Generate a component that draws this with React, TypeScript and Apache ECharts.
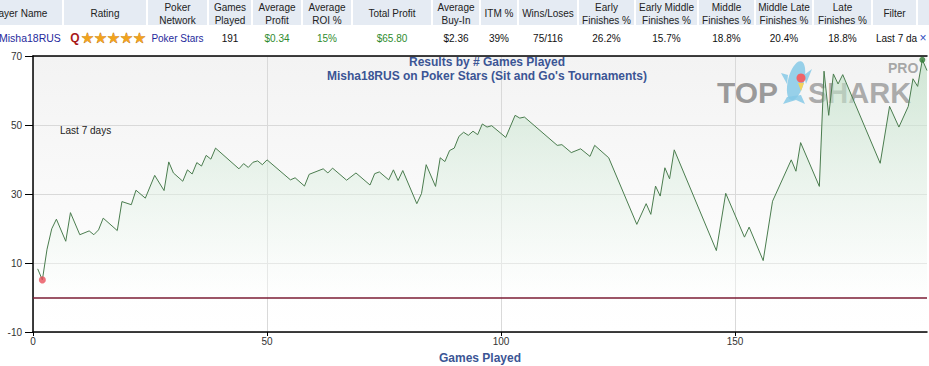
import React, { useEffect, useRef } from "react";
import * as echarts from "echarts";

// ---- data ----
const games = [1, 2, 3, 4, 5, 7, 8, 10, 12, 13, 14, 15, 18, 19, 21, 22, 24, 26, 28, 29, 30, 32, 33, 34, 35, 36, 37, 38, 39, 44, 45, 46, 47, 48, 49, 50, 55, 56, 58, 59, 62, 63, 64, 67, 69, 72, 73, 74, 76, 77, 78, 79, 82, 83, 84, 86, 87, 88, 89, 90, 91, 92, 93, 94, 95, 96, 97, 98, 101, 103, 104, 105, 112, 113, 115, 117, 119, 120, 123, 129, 131, 132, 133, 134, 135, 136, 137, 146, 148, 152, 153, 156, 158, 162, 163, 164, 168, 169, 170, 171, 172, 173, 181, 183, 185, 187, 188, 189, 190, 191];
const profit = [8.3, 5.1, 14, 19.9, 22.7, 16.3, 24.6, 18.2, 19.3, 18.2, 19.6, 23, 19.4, 27.8, 26.9, 31.1, 28.8, 35.4, 31, 39.3, 36.1, 33.7, 37, 35.8, 39.1, 38.1, 41.2, 40.1, 43.3, 37.3, 38.8, 37.7, 39.2, 39.6, 38.5, 39.9, 34.1, 34.7, 32.3, 35.7, 37.3, 36.1, 37.5, 34, 36.1, 32.6, 35.9, 36.4, 34.1, 37, 33.9, 36.8, 27.2, 30.1, 38.5, 32.2, 40.5, 39.4, 42.6, 43.3, 46.7, 47.9, 47, 48.2, 47.2, 50.3, 49.4, 49.8, 46.4, 52.8, 52, 52.3, 44.1, 44.3, 42, 43.1, 40.9, 44.1, 40.5, 21.2, 27.2, 24.1, 32.3, 29.4, 37.6, 34.4, 42.8, 13.6, 30.2, 17.5, 20.4, 10.7, 27.9, 39.9, 36.6, 44.9, 32.2, 65.6, 52.8, 64.8, 61.9, 64.6, 38.9, 55.4, 49.4, 55.4, 63.4, 61.2, 68.9, 65.8];

const xTicks = [0, 50, 100, 150];
const yMin = -10;
const yMax = 70;
const yStep = 20;
const xMax = 191;

const headerLabels = ["Player Name", "Rating", "Poker\nNetwork", "Games\nPlayed", "Average\nProfit", "Average\nROI %", "Total Profit", "Average\nBuy-In", "ITM %", "Wins/Loses", "Early\nFinishes %", "Early Middle\nFinishes %", "Middle\nFinishes %", "Middle Late\nFinishes %", "Late\nFinishes %", "Filter", ""];
const rowValues = ["Misha18RUS", "", "Poker Stars", "191", "$0.34", "15%", "$65.80", "$2.36", "39%", "75/116", "26.2%", "15.7%", "18.8%", "20.4%", "18.8%", "Last 7 days", "×"];
const ratingLetter = "Q";
const ratingStars = "★★★★★";
const titleLine1 = "Results by # Games Played";
const titleLine2 = "Misha18RUS on Poker Stars (Sit and Go's Tournaments)";
const periodNote = "Last 7 days";

// ---- layout (positions/styles only) ----
const colEdges = [-26, 63, 147, 208, 252, 302, 352, 432, 480, 518, 578, 635, 698, 755, 813, 872, 917, 945];
const NAVY = "#1F2A9C";
const GREEN = "#2E8B2E";
const rowColors = [NAVY, "#000", NAVY, "#111", GREEN, GREEN, GREEN, "#111", "#111", "#111", "#111", "#111", "#111", "#111", "#111", "#111", "#3050C0"];
const FONT = "'Liberation Sans', Arial, sans-serif";
const TITLE_BLUE = "#3B5595";

export default function App() {
  const ref = useRef<HTMLDivElement>(null);

  useEffect(() => {
    if (!ref.current) return;
    const chart = echarts.init(ref.current, undefined, { renderer: "svg" });

    const data = games.map((g, i) => [g, profit[i]]);
    let minI = 0;
    let maxI = 0;
    profit.forEach((v, i) => {
      if (v < profit[minI]) minI = i;
      if (v > profit[maxI]) maxI = i;
    });

    const graphics: any[] = [];
    // header cells
    headerLabels.forEach((label, i) => {
      const x0 = colEdges[i];
      const x1 = colEdges[i + 1];
      graphics.push({
        type: "rect",
        shape: { x: x0 + 1, y: 0, width: x1 - x0 - 2, height: 25 },
        style: { fill: "#E5EBF3" },
        silent: true,
      });
      if (label) {
        graphics.push({
          type: "text",
          style: {
            text: label,
            x: (x0 + x1) / 2,
            y: 13.5,
            align: "center",
            verticalAlign: "middle",
            font: `10px ${FONT}`,
            lineHeight: 13,
            fill: "#222",
          },
          silent: true,
        });
      }
    });
    // data row
    rowValues.forEach((val, i) => {
      if (!val) return;
      const x0 = colEdges[i];
      const x1 = colEdges[i + 1];
      let style: any = {
        text: val,
        x: (x0 + x1) / 2,
        y: 38,
        align: "center",
        verticalAlign: "middle",
        font: `10px ${FONT}`,
        fill: rowColors[i],
      };
      if (i === 0) style = { ...style, x: -1, align: "left", font: `10.5px ${FONT}` };
      if (i === 15) style = { ...style, x: 876, align: "left", width: 44, overflow: "truncate", ellipsis: "" };
      if (i === 16) style = { ...style, x: 923, font: `12px ${FONT}` };
      graphics.push({ type: "text", style, silent: true });
    });
    graphics.push({
      type: "text",
      style: { text: ratingLetter, x: 75, y: 38, align: "center", verticalAlign: "middle", font: `bold 12px ${FONT}`, fill: "#A81818" },
      silent: true,
    });
    graphics.push({
      type: "text",
      style: { text: ratingStars, x: 81, y: 38, align: "left", verticalAlign: "middle", font: "14.5px 'DejaVu Sans'", fill: "#F2A31B", stroke: "#B8700E", lineWidth: 0.6 },
      silent: true,
    });
    // period note
    graphics.push({
      type: "text",
      style: { text: periodNote, x: 60, y: 130, align: "left", verticalAlign: "middle", font: `10px ${FONT}`, fill: "#222" },
      silent: true,
      z: 5,
    });
    // logo
    graphics.push({
      type: "group",
      z: 10,
      silent: true,
      children: [
        { type: "ellipse", shape: { cx: 796, cy: 81, rx: 8, ry: 20 }, rotation: -0.25, originX: 796, originY: 81, style: { fill: "#86C9E6", opacity: 0.85 } },
        { type: "polygon", shape: { points: [[787, 97], [783, 104], [796, 100], [805, 104], [801, 95]] }, style: { fill: "#86C9E6", opacity: 0.85 } },
        { type: "polygon", shape: { points: [[781, 73], [788, 75], [787, 84]] }, style: { fill: "#86C9E6", opacity: 0.85 } },
        { type: "polygon", shape: { points: [[804, 75], [812, 69], [806, 84]] }, style: { fill: "#86C9E6", opacity: 0.85 } },
        { type: "circle", shape: { cx: 801, cy: 78, r: 4.5 }, style: { fill: "#F06468" } },
        { type: "polygon", shape: { points: [[798, 83], [804, 83], [801, 91]] }, style: { fill: "#F5D35A" } },
        { type: "text", style: { text: "TOP", x: 717, y: 92, align: "left", verticalAlign: "middle", font: `bold 30px ${FONT}`, lineHeight: 24, fill: "#8A8A8A", opacity: 0.85 } },
        { type: "text", style: { text: "SHARK", x: 808, y: 93, align: "left", verticalAlign: "middle", font: `bold 29px ${FONT}`, lineHeight: 23, fill: "#8A8A8A", opacity: 0.7 } },
        { type: "text", style: { text: "PRO", x: 888, y: 68, align: "left", verticalAlign: "middle", font: `bold 14px ${FONT}`, lineHeight: 11, fill: "#999", opacity: 0.85 } },
      ],
    });

    chart.setOption({
      animation: false,
      textStyle: { fontFamily: FONT },
      title: {
        text: `${titleLine1}\n${titleLine2}`,
        left: 482,
        top: 50,
        textAlign: "center",
        textStyle: { fontSize: 12, fontWeight: "bold", color: TITLE_BLUE, lineHeight: 14, fontFamily: FONT },
      },
      grid: {
        left: 33,
        right: 2,
        top: 56,
        bottom: 34,
        outerBoundsMode: "none",
        containLabel: false,
        show: true,
        borderWidth: 0,
        backgroundColor: new echarts.graphic.LinearGradient(0, 0, 0, 1, [
          { offset: 0, color: "#F3F3F3" },
          { offset: 0.85, color: "#FEFEFE" },
          { offset: 1, color: "#FFFFFF" },
        ]),
      },
      xAxis: [
        {
          type: "value",
          min: 0,
          max: xMax,
          interval: 50,
          name: "Games Played",
          nameLocation: "middle",
          nameGap: 20,
          nameTextStyle: { fontSize: 12, fontWeight: "bold", color: TITLE_BLUE, fontFamily: FONT },
          axisLine: { show: true, onZero: false, lineStyle: { color: "#000", width: 1.5 } },
          axisTick: { show: true, length: 4, customValues: xTicks, lineStyle: { color: "#000" } },
          axisLabel: { customValues: xTicks, fontSize: 10, color: "#333", margin: 4 },
          splitLine: { show: true, lineStyle: { color: "#D9D9D9", width: 1 } },
        },
        {
          type: "value",
          position: "top",
          min: 0,
          max: xMax,
          axisLine: { show: true, onZero: false, lineStyle: { color: "#000", width: 1.5 } },
          axisTick: { show: false },
          axisLabel: { show: false },
          splitLine: { show: false },
        },
      ],
      yAxis: {
        type: "value",
        min: yMin,
        max: yMax,
        interval: yStep,
        axisLine: { show: true, onZero: false, lineStyle: { color: "#000", width: 1.5 } },
        axisTick: { show: true, length: 8, lineStyle: { color: "#000" } },
        axisLabel: { fontSize: 10, color: "#333", margin: 11 },
        splitLine: { show: true, lineStyle: { color: "#D9D9D9", width: 1 } },
      },
      series: [
        {
          type: "line",
          data,
          xAxisIndex: 0,
          showSymbol: false,
          symbol: "none",
          lineStyle: { color: "#4A7C4E", width: 1 },
          areaStyle: {
            origin: 0,
            color: new echarts.graphic.LinearGradient(0, 0, 0, 1, [
              { offset: 0, color: "rgba(186,222,194,0.88)" },
              { offset: 1, color: "rgba(255,255,255,0.6)" },
            ]),
          },
          markLine: {
            silent: true,
            symbol: "none",
            label: { show: false },
            lineStyle: { color: "#7B1C34", width: 1.5, type: "solid" },
            data: [{ yAxis: 0 }],
          },
          z: 3,
        },
        {
          type: "scatter",
          xAxisIndex: 0,
          data: [[games[minI], profit[minI]]],
          symbolSize: 7,
          itemStyle: { color: "#E8505B" },
          z: 6,
        },
        {
          type: "scatter",
          xAxisIndex: 0,
          data: [[games[maxI], profit[maxI]]],
          symbolSize: 6,
          itemStyle: { color: "#2F7A33" },
          z: 6,
        },
      ],
      graphic: graphics,
    });

    return () => chart.dispose();
  }, []);

  return (
    <div
      ref={ref}
      style={{ position: "fixed", left: 0, top: 0, width: 929, height: 366, background: "#fff" }}
    />
  );
}
